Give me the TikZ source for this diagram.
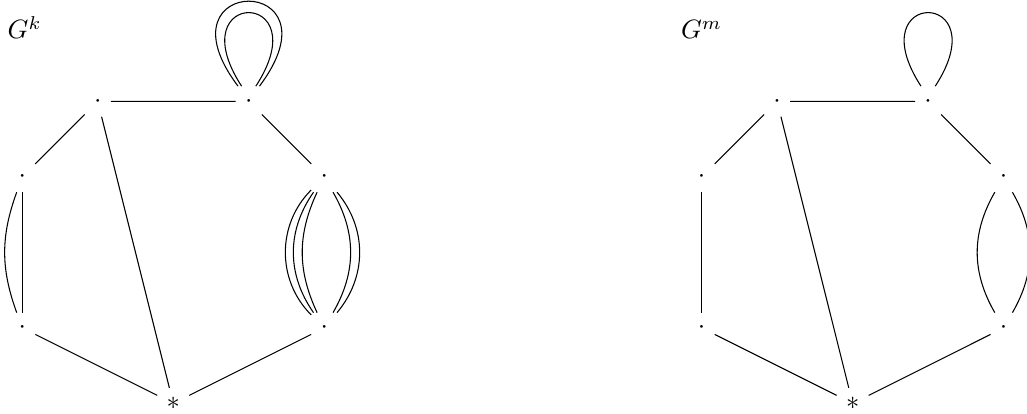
\documentclass[tikz,border=0pt]{standalone}
\usepackage{amsmath}
\usepackage{tikz}

\begin{document}
\begin{tikzpicture}[
    vert/.style={inner sep=0.333em},
    lbl/.style={anchor=base west, inner sep=0pt},
    smallloop/.style={out=123, in=57, distance=1.55cm},
    bigloop/.style={out=127, in=53, distance=1.88cm}
]
    \useasboundingbox (-0.295,-0.14) rectangle (13.31,5.344);

    % G^k
    \node[lbl] (labk) at (-0.2,4.83) {$G^k$};
    \node[vert] (k1) at (0,3) {$\cdot$};
    \node[vert] (k2) at (1,4) {$\cdot$};
    \node[vert] (k3) at (3,4) {$\cdot$};
    \node[vert] (k4) at (4,3) {$\cdot$};
    \node[vert] (k5) at (4,1) {$\cdot$};
    \node[vert] (k6) at (2,0) {$*$};
    \node[vert] (k7) at (0,1) {$\cdot$};
    \draw (k1) -- (k2) -- (k3) -- (k4);
    \draw (k2) -- (k6);
    \draw (k7) -- (k6) -- (k5);
    \draw (k1) -- (k7);
    \draw (k1) to[bend right=20] (k7);
    \foreach \b in {25,35,45}
        \draw (k4) to[bend right=\b] (k5);
    \foreach \b in {30,40}
        \draw (k4) to[bend left=\b] (k5);
    \draw (k3.115) to[smallloop] (k3.65);
    \draw (k3.125) to[bigloop] (k3.55);

    % G^m
    \node[lbl] (labm) at (8.72,4.83) {$G^m$};
    \node[vert] (m1) at (9,3) {$\cdot$};
    \node[vert] (m2) at (10,4) {$\cdot$};
    \node[vert] (m3) at (12,4) {$\cdot$};
    \node[vert] (m4) at (13,3) {$\cdot$};
    \node[vert] (m5) at (13,1) {$\cdot$};
    \node[vert] (m6) at (11,0) {$*$};
    \node[vert] (m7) at (9,1) {$\cdot$};
    \draw (m1) -- (m2) -- (m3) -- (m4);
    \draw (m2) -- (m6);
    \draw (m7) -- (m6) -- (m5);
    \draw (m1) -- (m7);
    \draw (m4) to[bend right=30] (m5);
    \draw (m4) to[bend left=30] (m5);
    \draw (m3.115) to[smallloop] (m3.65);
\end{tikzpicture}
\end{document}
